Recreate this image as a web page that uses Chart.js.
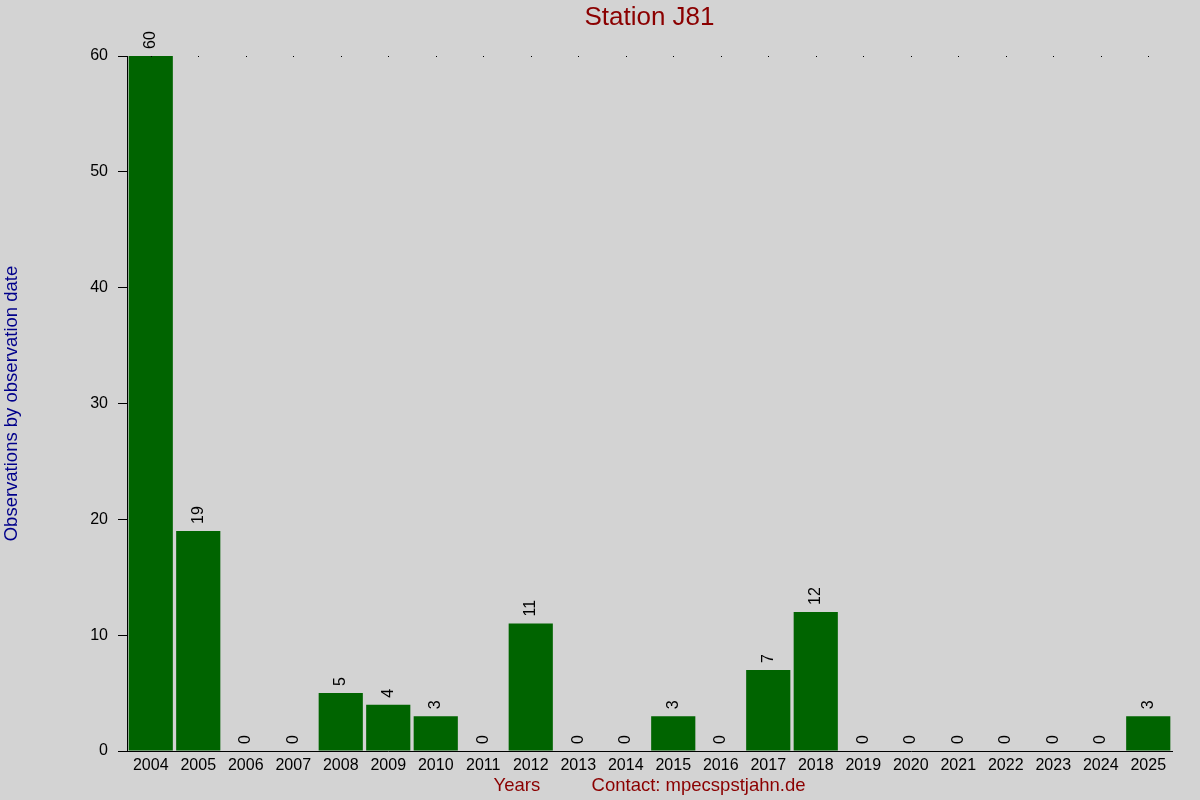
<!DOCTYPE html>
<html>
<head>
<meta charset="utf-8">
<script src="https://cdn.jsdelivr.net/npm/chart.js@4/dist/chart.umd.min.js"></script>
<style>
  html, body { margin: 0; padding: 0; background: #d3d3d3; }
  #wrap { width: 1200px; height: 800px; }
</style>
</head>
<body>
<div id="wrap"><canvas id="cs"></canvas></div>
<script>
var years = ["2004","2005","2006","2007","2008","2009","2010","2011","2012","2013","2014",
  "2015","2016","2017","2018","2019","2020","2021","2022","2023","2024","2025"];
var counts = [60, 19, 0, 0, 5, 4, 3, 0, 11, 0, 0, 3, 0, 7, 12, 0, 0, 0, 0, 0, 0, 3];
var yTicks = [0, 10, 20, 30, 40, 50, 60];

var font = "'Liberation Sans', Arial, sans-serif";

// grey page behind everything
var bgPlugin = {
  id: "bg",
  beforeDraw: function (chart) {
    var c = chart.ctx;
    c.save();
    c.fillStyle = "#d3d3d3";
    c.fillRect(0, 0, chart.width, chart.height);
    c.restore();
  }
};

// title centred on the plot, value labels turned upright, small dots at the top
var extras = {
  id: "extras",
  afterDatasetsDraw: function (chart) {
    var c = chart.ctx, area = chart.chartArea;
    var xs = chart.scales.x, ys = chart.scales.y;
    c.save();

    c.fillStyle = "#8b0000";
    c.font = "26px " + font;
    c.textAlign = "center";
    c.textBaseline = "middle";
    c.fillText("Station J81", (area.left + area.right) / 2, 18);

    var topY = ys.getPixelForValue(ys.max);
    c.fillStyle = "#000";
    for (var i = 0; i < years.length; i++) {
      c.fillRect(Math.round(xs.getPixelForTick(i)), Math.round(topY), 1, 1);
    }

    var meta = chart.getDatasetMeta(0);
    c.font = "16px " + font;
    c.textAlign = "left";
    c.textBaseline = "middle";
    meta.data.forEach(function (bar, i) {
      c.save();
      c.translate(bar.x, bar.y - 7);
      c.rotate(-Math.PI / 2);
      c.fillText(String(counts[i]), 0, 0);
      c.restore();
    });
    c.restore();
  }
};

new Chart(document.getElementById("cs"), {
  type: "bar",
  data: {
    labels: years,
    datasets: [{
      data: counts,
      backgroundColor: "#006400",
      borderWidth: 0,
      barPercentage: 0.93,
      categoryPercentage: 1
    }]
  },
  options: {
    responsive: true,
    maintainAspectRatio: false,
    animation: false,
    layout: { padding: { top: 56, right: 28, left: 0, bottom: 0 } },
    plugins: {
      legend: { display: false },
      tooltip: { enabled: false },
      title: { display: false }
    },
    scales: {
      x: {
        afterFit: function (s) { s.height = 49; },
        grid: { display: true, drawOnChartArea: false, drawTicks: false },
        border: { display: true, color: "#000", width: 1 },
        ticks: { color: "#000", font: { family: font, size: 16 }, padding: 5, maxRotation: 0, autoSkip: false },
        title: {
          display: true,
          text: "Years          Contact: mpecspstjahn.de",
          color: "#8b0000",
          font: { family: font, size: 18.5 },
          padding: { top: 3, bottom: 3 }
        }
      },
      y: {
        min: yTicks[0],
        max: yTicks[yTicks.length - 1],
        afterFit: function (s) { s.width = 127; },
        afterBuildTicks: function (s) { s.ticks = yTicks.map(function (v) { return { value: v }; }); },
        grid: { display: true, drawOnChartArea: false, color: "#000", tickLength: 9 },
        border: { display: true, color: "#000", width: 1 },
        ticks: { color: "#000", font: { family: font, size: 16 }, padding: 10 },
        title: {
          display: true,
          text: "Observations by observation date",
          color: "#00008b",
          font: { family: font, size: 18.5 },
          padding: { top: 1, bottom: 1 }
        }
      }
    }
  },
  plugins: [bgPlugin, extras]
});
</script>
</body>
</html>
